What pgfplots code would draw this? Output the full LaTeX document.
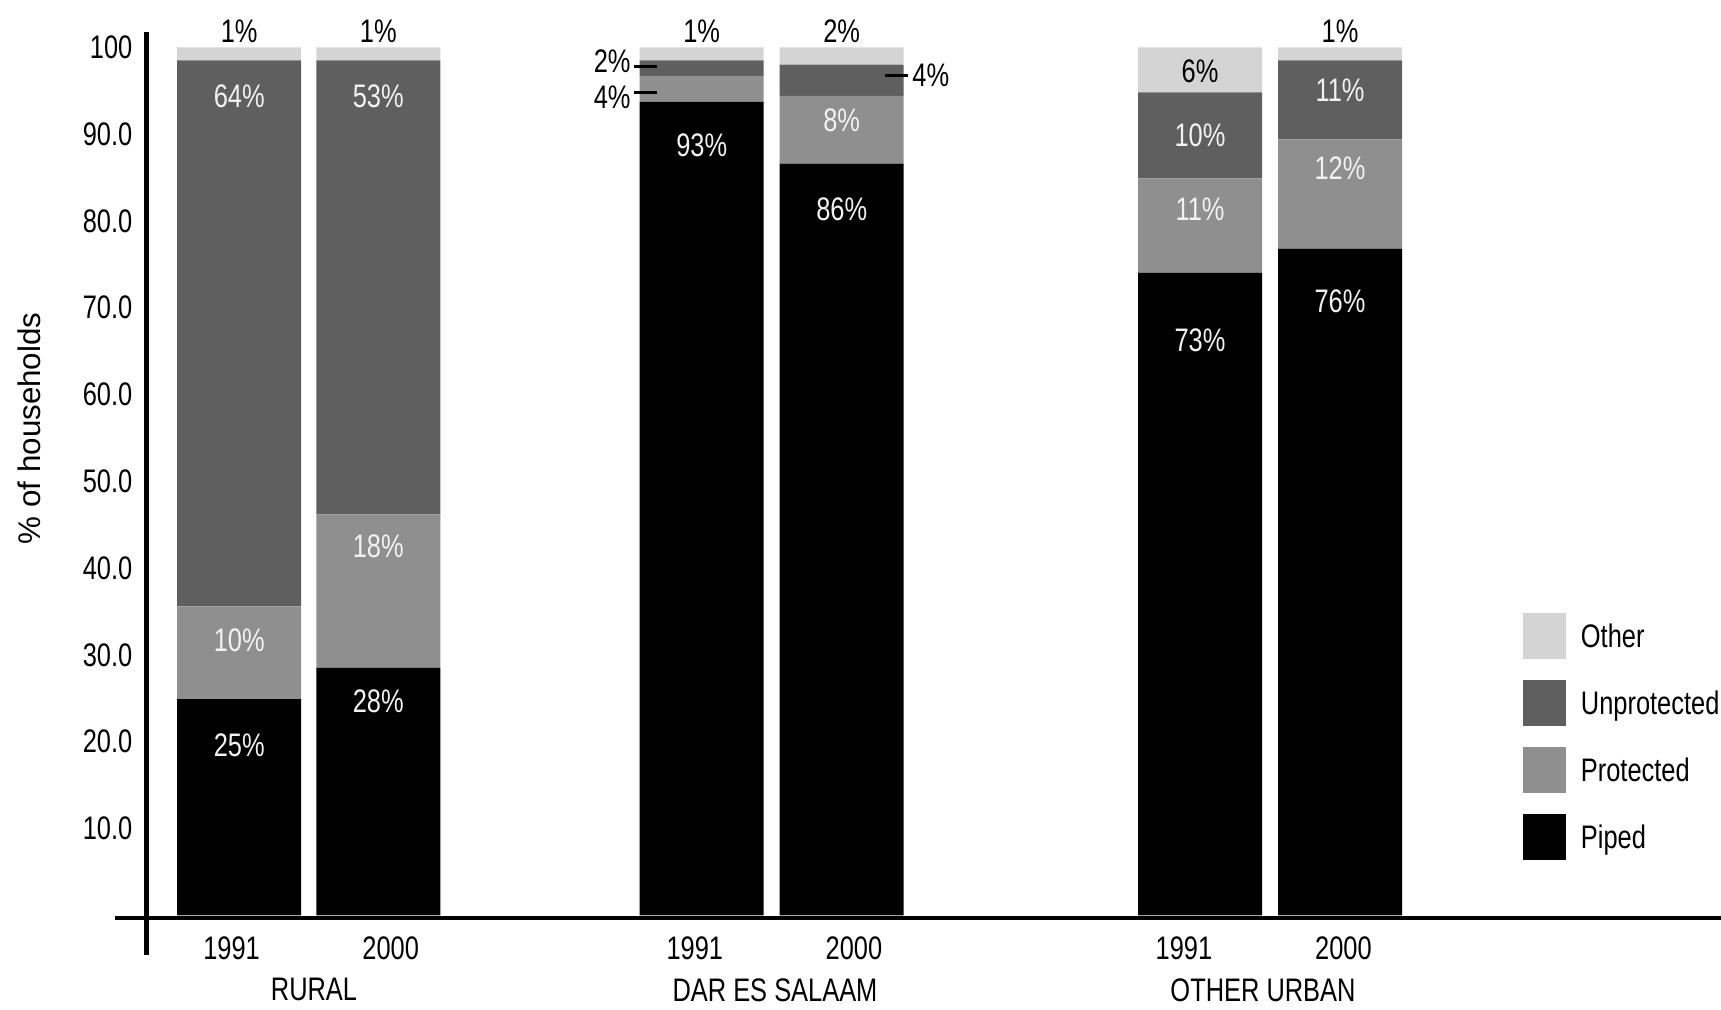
\documentclass[border=0pt]{standalone}
\usepackage{fontspec}
\setmainfont{Liberation Sans}[FakeStretch=0.78]
\newfontfamily\ylabfont{Liberation Sans}
\usepackage{pgfplots}
\pgfplotsset{compat=1.18}
\definecolor{cother}{HTML}{D4D4D4}
\definecolor{cunprot}{HTML}{5F5F5F}
\definecolor{cprot}{HTML}{8F8F8F}
\definecolor{cpiped}{HTML}{000000}
\definecolor{lbl}{HTML}{F2F2F2}
\newcommand\fs{\fontsize{16.3}{19}\selectfont}
\pgfplotsset{sqlegend/.style={legend image code/.code={\fill[##1] (0pt,-11.5pt) rectangle (21.5pt,11.5pt);}}}
\newcommand\chartlabels{%
% axis lines
\draw[line width=2pt] (axis cs:115,-0.28) -- (axis cs:1721,-0.28);
\draw[line width=2.5pt] (axis cs:146.7,101.8) -- (axis cs:146.7,-4.57);
% top labels
\node[font=\fs, inner sep=0pt] at (axis cs:239.2,101.8) {1\%};
\node[font=\fs, inner sep=0pt] at (axis cs:378.3,101.8) {1\%};
\node[font=\fs, inner sep=0pt] at (axis cs:701.7,101.8) {1\%};
\node[font=\fs, inner sep=0pt] at (axis cs:841.7,101.8) {2\%};
\node[font=\fs, inner sep=0pt] at (axis cs:1340,101.8) {1\%};
% rural
\node[font=\fs, inner sep=0pt, text=lbl] at (axis cs:239.2,94.3) {64\%};
\node[font=\fs, inner sep=0pt, text=lbl] at (axis cs:378.3,94.3) {53\%};
\node[font=\fs, inner sep=0pt, text=lbl] at (axis cs:239.2,31.7) {10\%};
\node[font=\fs, inner sep=0pt, text=lbl] at (axis cs:239.2,19.6) {25\%};
\node[font=\fs, inner sep=0pt, text=lbl] at (axis cs:378.3,42.5) {18\%};
\node[font=\fs, inner sep=0pt, text=lbl] at (axis cs:378.3,24.6) {28\%};
% dar es salaam
\node[font=\fs, inner sep=0pt, text=lbl] at (axis cs:701.7,88.7) {93\%};
\node[font=\fs, inner sep=0pt, text=lbl] at (axis cs:841.7,91.6) {8\%};
\node[font=\fs, inner sep=0pt, text=lbl] at (axis cs:841.7,81.3) {86\%};
\draw[line width=1.5pt] (axis cs:634,97.8) -- (axis cs:657,97.8);
\draw[line width=1.5pt] (axis cs:634,94.8) -- (axis cs:657,94.8);
\draw[line width=1.5pt] (axis cs:885,96.8) -- (axis cs:908,96.8);
\node[font=\fs, inner sep=0pt, anchor=east] at (axis cs:631,98.4) {2\%};
\node[font=\fs, inner sep=0pt, anchor=east] at (axis cs:631,94.2) {4\%};
\node[font=\fs, inner sep=0pt, anchor=west] at (axis cs:912,96.8) {4\%};
% other urban
\node[font=\fs, inner sep=0pt] at (axis cs:1200,97.2) {6\%};
\node[font=\fs, inner sep=0pt, text=lbl] at (axis cs:1200,89.9) {10\%};
\node[font=\fs, inner sep=0pt, text=lbl] at (axis cs:1200,81.3) {11\%};
\node[font=\fs, inner sep=0pt, text=lbl] at (axis cs:1200,66.3) {73\%};
\node[font=\fs, inner sep=0pt, text=lbl] at (axis cs:1340,95.1) {11\%};
\node[font=\fs, inner sep=0pt, text=lbl] at (axis cs:1340,86.1) {12\%};
\node[font=\fs, inner sep=0pt, text=lbl] at (axis cs:1340,70.7) {76\%};
% group labels
\node[font=\fs, inner sep=0pt] at (axis cs:314,-8.6) {RURAL};
\node[font=\fs, inner sep=0pt] at (axis cs:775,-8.6) {DAR ES SALAAM};
\node[font=\fs, inner sep=0pt] at (axis cs:1263,-8.6) {OTHER URBAN};
% y label
\node[rotate=90, inner sep=0pt, font=\ylabfont\fontsize{15.65}{18}\selectfont] at (axis cs:29.3,56.1) {\% of households};
}
\begin{document}
\begin{tikzpicture}
\useasboundingbox (-73.35pt,-47.35pt) rectangle (787.15pt,457.65pt);
\begin{axis}[
  anchor=south west, at={(0pt,0pt)},
  x=0.5pt, y=4.34pt,
  xmin=146.7, xmax=1721, ymin=0, ymax=100,
  clip=false,
  axis line style={draw=none},
  tick style={draw=none},
  major tick length=0pt,
  ybar stacked, bar width=124,
  every axis plot post/.append style={sqlegend},
  ytick={10,20,30,40,50,60,70,80,90,100},
  yticklabels={10.0,20.0,30.0,40.0,50.0,60.0,70.0,80.0,90.0,100},
  yticklabel style={font=\fs, anchor=east, inner sep=0pt, xshift=-7pt},
  xtick={231.6,390.7,694.8,854,1184,1343.5},
  xticklabels={1991,2000,1991,2000,1991,2000},
  xticklabel style={font=\fs, anchor=center, inner sep=0pt, yshift=-16.5pt},
  legend style={at={(axis cs:1523,34.9)}, anchor=north west, draw=none, fill=none,
    inner sep=0pt, row sep=10.5pt, column sep=7.25pt, font=\fs,
    nodes={inner sep=0pt, text depth=0pt}, cells={anchor=west}},
  reverse legend,
  after end axis/.code={\chartlabels},
]
\addplot[fill=cpiped, draw=none] coordinates {(239.2,24.9) (378.3,28.5) (701.7,93.7) (841.7,86.6) (1200,74.0) (1340,76.8)};
\addlegendentry{Piped}
\addplot[fill=cprot, draw=none] coordinates {(239.2,10.7) (378.3,17.7) (701.7,3.0) (841.7,7.8) (1200,10.9) (1340,12.6)};
\addlegendentry{Protected}
\addplot[fill=cunprot, draw=none] coordinates {(239.2,62.9) (378.3,52.3) (701.7,1.8) (841.7,3.6) (1200,9.9) (1340,9.1)};
\addlegendentry{Unprotected}
\addplot[fill=cother, draw=none] coordinates {(239.2,1.5) (378.3,1.5) (701.7,1.5) (841.7,2.0) (1200,5.2) (1340,1.5)};
\addlegendentry{Other}
\end{axis}
\end{tikzpicture}
\end{document}
